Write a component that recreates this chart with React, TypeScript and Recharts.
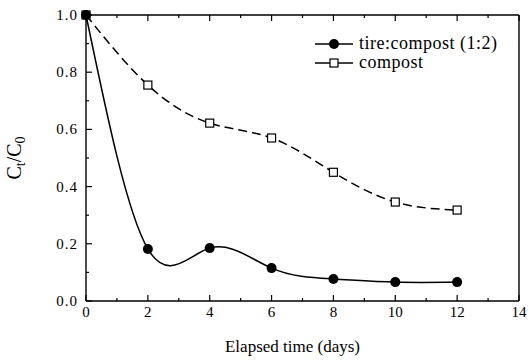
import React from "react";
import { LineChart, Line, XAxis, YAxis, Legend, Label } from "recharts";

const days = [0, 2, 4, 6, 8, 10, 12];
const tireCompost = [1.0, 0.182, 0.185, 0.115, 0.077, 0.066, 0.066];
const compostOnly = [1.0, 0.755, 0.622, 0.57, 0.45, 0.346, 0.318];

const xTicks = [0, 1, 2, 3, 4, 5, 6, 7, 8, 9, 10, 11, 12, 13, 14];
const yTicks = [0, 0.1, 0.2, 0.3, 0.4, 0.5, 0.6, 0.7, 0.8, 0.9, 1.0];
const legendOrder = ["tire", "compost"];

const data = days.map((d, i) => ({ t: d, tire: tireCompost[i], compost: compostOnly[i] }));

const FONT = "Liberation Serif, Times New Roman, serif";
const INK = "#000";

const isMajorX = (v: number) => v % 2 === 0;
const isMajorY = (v: number) => Math.round(v * 10) % 2 === 0;

const BottomTick = ({ x, y, payload }: any) => {
  const major = isMajorX(payload.value);
  return (
    <g>
      <line x1={x} x2={x} y1={y} y2={y - (major ? 6 : 3)} stroke={INK} strokeWidth={1.2} />
      {major && (
        <text x={x} y={y + 16} textAnchor="middle" fontFamily={FONT} fontSize={15} fill={INK}>
          {payload.value}
        </text>
      )}
    </g>
  );
};

const TopTick = ({ x, y, payload }: any) => {
  const major = isMajorX(payload.value);
  return <line x1={x} x2={x} y1={y} y2={y + (major ? 6 : 3)} stroke={INK} strokeWidth={1.2} />;
};

const LeftTick = ({ x, y, payload }: any) => {
  const major = isMajorY(payload.value);
  return (
    <g>
      <line x1={x} x2={x + (major ? 6 : 3)} y1={y} y2={y} stroke={INK} strokeWidth={1.2} />
      {major && (
        <text
          x={x - 8}
          y={y + 5}
          textAnchor="end"
          fontFamily={FONT}
          fontSize={15}
          letterSpacing={1}
          fill={INK}
        >
          {payload.value.toFixed(1)}
        </text>
      )}
    </g>
  );
};

const RightTick = ({ x, y, payload }: any) => {
  const major = isMajorY(payload.value);
  return <line x1={x} x2={x - (major ? 6 : 3)} y1={y} y2={y} stroke={INK} strokeWidth={1.2} />;
};

const SquareDot = ({ cx, cy }: any) => (
  <rect x={cx - 4} y={cy - 4} width={8} height={8} fill="#fff" stroke={INK} strokeWidth={1.2} />
);

// legend drawn as svg so the serif face is used for its text too
const LegendContent = ({ payload }: any) => {
  const items = [...(payload || [])].sort(
    (a: any, b: any) => legendOrder.indexOf(a.dataKey) - legendOrder.indexOf(b.dataKey)
  );
  return (
    <svg width={210} height={40} style={{ display: "block" }}>
      {items.map((p: any, i: number) => {
        const cy = 10 + i * 19;
        return (
          <g key={p.dataKey}>
            <line x1={0} x2={38} y1={cy} y2={cy} stroke={INK} strokeWidth={1.5} />
            {p.dataKey === "tire" ? (
              <circle cx={19} cy={cy} r={5} fill={INK} />
            ) : (
              <rect x={15} y={cy - 4} width={8} height={8} fill="#fff" stroke={INK} strokeWidth={1.2} />
            )}
            <text
              x={44}
              y={cy + 5}
              fontFamily={FONT}
              fontSize={18}
              letterSpacing={0.5}
              fill={INK}
            >
              {p.value}
            </text>
          </g>
        );
      })}
    </svg>
  );
};

const YTitle = ({ viewBox }: any) => {
  const cx = 21;
  const cy = viewBox.y + viewBox.height / 2;
  return (
    <text
      x={cx}
      y={cy}
      transform={`rotate(-90, ${cx}, ${cy})`}
      textAnchor="middle"
      fontFamily={FONT}
      fontSize={20}
      fill={INK}
    >
      C<tspan dy={4} fontSize={14}>t</tspan>
      <tspan dy={-4}>/C</tspan>
      <tspan dy={4} fontSize={14}>0</tspan>
    </text>
  );
};

const XTitle = ({ viewBox }: any) => (
  <text
    x={viewBox.x + viewBox.width / 2 - 10}
    y={viewBox.y + 51}
    textAnchor="middle"
    fontFamily={FONT}
    fontSize={17}
    fill={INK}
  >
    Elapsed time (days)
  </text>
);

export default function App() {
  return (
    <div style={{ position: "absolute", left: 0, top: 0, background: "#fff" }}>
      <LineChart
        width={528}
        height={361}
        data={data}
        margin={{ top: 14, right: 8, left: 0, bottom: 0 }}
      >
        <XAxis
          xAxisId="b"
          dataKey="t"
          type="number"
          domain={[0, 14]}
          ticks={xTicks}
          interval={0}
          height={60}
          tickSize={0}
          tickMargin={0}
          tickLine={false}
          tick={<BottomTick />}
          axisLine={{ stroke: INK, strokeWidth: 1.4 }}
        >
          <Label content={<XTitle />} />
        </XAxis>
        <XAxis
          xAxisId="top"
          orientation="top"
          dataKey="t"
          type="number"
          domain={[0, 14]}
          ticks={xTicks}
          interval={0}
          height={1}
          tickSize={0}
          tickMargin={0}
          tickLine={false}
          tick={<TopTick />}
          axisLine={{ stroke: INK, strokeWidth: 1.4 }}
        />
        <YAxis
          yAxisId="l"
          type="number"
          domain={[0, 1]}
          ticks={yTicks}
          interval={0}
          width={86}
          tickSize={0}
          tickMargin={0}
          tickLine={false}
          tick={<LeftTick />}
          axisLine={{ stroke: INK, strokeWidth: 1.4 }}
        >
          <Label content={<YTitle />} />
        </YAxis>
        <YAxis
          yAxisId="r"
          orientation="right"
          type="number"
          domain={[0, 1]}
          ticks={yTicks}
          interval={0}
          width={1}
          tickSize={0}
          tickMargin={0}
          tickLine={false}
          tick={<RightTick />}
          axisLine={{ stroke: INK, strokeWidth: 1.4 }}
        />
        <Legend
          layout="vertical"
          align="center"
          verticalAlign="middle"
          wrapperStyle={{ left: 315, top: 34, width: 210 }}
          content={<LegendContent />}
        />
        <Line
          xAxisId="b"
          yAxisId="l"
          type="natural"
          dataKey="compost"
          name="compost"
          stroke={INK}
          strokeWidth={1.5}
          strokeDasharray="9 5"
          dot={<SquareDot />}
          isAnimationActive={false}
        />
        <Line
          xAxisId="b"
          yAxisId="l"
          type="natural"
          dataKey="tire"
          name="tire:compost (1:2)"
          stroke={INK}
          strokeWidth={1.5}
          dot={{ r: 5, fill: INK, stroke: INK, strokeWidth: 0 }}
          isAnimationActive={false}
        />
      </LineChart>
    </div>
  );
}
